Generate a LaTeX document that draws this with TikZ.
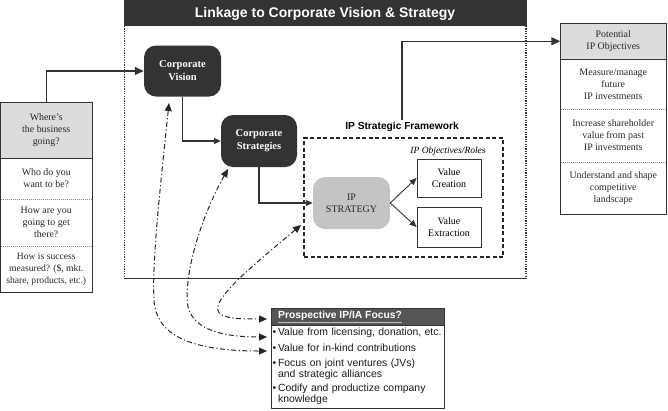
\documentclass[tikz,border=0pt]{standalone}
\usepackage{fontspec}
\setmainfont{Liberation Serif}
\setsansfont{Liberation Sans}
\usetikzlibrary{arrows.meta}
\definecolor{darkbox}{HTML}{333333}
\definecolor{hdrgray}{HTML}{DCDCDC}
\definecolor{ipgray}{HTML}{C4C4C4}
\definecolor{prosphdr}{HTML}{555555}
\definecolor{linec}{HTML}{333333}
\begin{document}
\begin{tikzpicture}[x=1pt,y=-1pt,
  darkround/.style={draw=none,fill=darkbox,rounded corners=12pt,text=white,font=\fontsize{10.5}{13}\selectfont\bfseries,align=center,inner sep=0pt},
  plainbox/.style={draw=linec,line width=0.8pt,fill=white,font=\fontsize{10}{12}\selectfont,align=center,inner sep=0pt},
  sectxt/.style={font=\fontsize{9.9}{12}\selectfont,align=center,inner sep=0pt,text=black!85},
  conn/.style={draw=linec,line width=1.1pt},
  bigtip/.style={-{Triangle[length=9pt,width=8pt]}},
  smalltip/.style={-{Triangle[length=7pt,width=6pt]}},
  dd/.style={draw=black!85,line width=1pt,dash pattern=on 5pt off 2.5pt on 1.2pt off 2.5pt,{Triangle[length=8pt,width=7pt]}-{Triangle[length=8pt,width=7pt]}},
  dotsep/.style={draw=black!45,line width=0.5pt,dash pattern=on 1pt off 1pt},
  bigdot/.style={draw=linec,line width=1.6pt,dash pattern=on 1.2pt off 1.2pt}
]
\useasboundingbox (0,0) rectangle (668,410);

% ---- title bar and big box
\fill[darkbox] (124,0) rectangle (527,26);
\node[text=white,font=\sffamily\bfseries\fontsize{14}{16}\selectfont] (title) at (325,14) {Linkage to Corporate Vision \& Strategy};
\draw[bigdot] (124.5,26) -- (124.5,278.5);
\draw[bigdot] (526,26) -- (526,278.5);
\draw[draw=linec,line width=1.2pt] (124,278.5) -- (527,278.5);

% ---- left box
\fill[hdrgray] (0.5,102.5) rectangle (92,158);
\draw[line width=0.8pt,draw=linec] (0.5,102.5) rectangle (92,292);
\draw[line width=0.8pt,draw=linec] (0.5,158) -- (92,158);
\draw[dotsep] (0.5,199) -- (92,199);
\draw[dotsep] (0.5,246) -- (92,246);
\node[sectxt,minimum width=91.5pt,minimum height=55.5pt] (where) at (46.25,130.25) {Where’s\\the business\\going?};
\node[sectxt] (who) at (46.25,178.5) {Who do you\\want to be?};
\node[sectxt] (how) at (46.25,222.5) {How are you\\going to get\\there?};
\node[sectxt,font=\fontsize{9.6}{12}\selectfont] (meas) at (46.25,269) {How is success\\measured? (\$, mkt.\\share, products, etc.)};

% ---- right box
\fill[hdrgray] (560.5,23.5) rectangle (666,59);
\draw[line width=0.8pt,draw=linec] (560.5,23.5) rectangle (666,214);
\draw[line width=0.8pt,draw=linec] (560.5,59) -- (666,59);
\draw[dotsep] (560.5,109) -- (666,109);
\draw[dotsep] (560.5,162) -- (666,162);
\node[sectxt,minimum width=105.5pt,minimum height=35.5pt] (pot) at (613.25,41.25) {Potential\\IP Objectives};
\node[sectxt] (mm) at (613.25,84) {Measure/manage\\future\\IP investments};
\node[sectxt] (inc) at (613.25,135.5) {Increase shareholder\\value from past\\IP investments};
\node[sectxt] (und) at (613.25,188) {Understand and shape\\competitive\\landscape};

% ---- corporate boxes
\node[darkround,minimum width=77pt,minimum height=51pt] (vision) at (182.5,71) {Corporate\\Vision};
\node[darkround,minimum width=76pt,minimum height=52pt] (strat) at (259,141) {Corporate\\Strategies};

% ---- IP strategic framework
\node[draw=black!85,line width=1.2pt,dash pattern=on 4pt off 2.5pt,minimum width=199pt,minimum height=119pt,inner sep=0pt] (frame) at (403.5,197.5) {};
\node[font=\sffamily\bfseries\fontsize{10.2}{12}\selectfont,inner sep=2pt] (fwlabel) at (402,127) {IP Strategic Framework};
\node[font=\itshape\fontsize{9.5}{11}\selectfont,inner sep=0pt] (roles) at (448,151) {IP Objectives/Roles};
\node[fill=ipgray,rounded corners=12pt,minimum width=77pt,minimum height=52pt,align=center,inner sep=0pt,font=\fontsize{10}{12}\selectfont,text=black!85] (ipstrat) at (351.5,203) {IP\\STRATEGY};
\node[plainbox,minimum width=64pt,minimum height=38pt] (vc) at (449,178) {Value\\Creation};
\node[plainbox,minimum width=64pt,minimum height=40pt] (ve) at (449,227) {Value\\Extraction};

% ---- prospective box
\node[fill=prosphdr,draw=linec,line width=0.8pt,minimum width=173pt,minimum height=17pt,inner sep=0pt] (prosph) at (357.5,316.5) {};
\node[anchor=west,text=white,font=\sffamily\bfseries\fontsize{10.3}{12}\selectfont,inner sep=0pt] (prospt) at (278,315.5) {Prospective IP/IA Focus?};
\draw[white!75!black,line width=0.6pt] ([yshift=-1.5pt]prospt.south west) -- ([yshift=-1.5pt]prospt.south east);
\draw[line width=0.8pt,draw=linec] (271,325) rectangle (444,408);
\node[anchor=north west,align=left,text width=172pt,inner sep=0pt,font=\sffamily\fontsize{10.4}{11}\selectfont,text=black!90] (prospb) at (272.5,327.5) {%
\textbullet\,Value from licensing, donation, etc.\\[5pt]
\textbullet\,Value for in-kind contributions\\[4pt]
\textbullet\,Focus on joint ventures (JVs)\\
\hphantom{\textbullet\,}and strategic alliances\\[3pt]
\textbullet\,Codify and productize company\\
\hphantom{\textbullet\,}knowledge};

% ---- solid connectors
\draw[conn,bigtip] (where.north) |- (vision.west);
\draw[conn,smalltip] (vision.south) |- (strat.west);
\draw[conn,smalltip] (strat.south) |- (ipstrat.west);
\draw[conn,bigtip] (fwlabel.north) |- (pot.west);
\draw[conn,line width=0.9pt,smalltip] (ipstrat.east) -- (vc.west);
\draw[conn,line width=0.9pt,smalltip] (ipstrat.east) -- (ve.west);

% ---- dash-dot connectors
\coordinate (s1) at (169,103);
\coordinate (s2) at (228,169);
\coordinate (s3) at (301,225);
\coordinate (e1) at (267,351);
\coordinate (e2) at (267,337);
\coordinate (e3) at (267,319);
\draw[dd] (s1) .. controls (160,190) and (152,260) .. (154,300) .. controls (156,335) and (190,351) .. (e1);
\draw[dd] (s2) .. controls (205,210) and (187,260) .. (187,298) .. controls (187,325) and (212,337) .. (e2);
\draw[dd] (s3) .. controls (262,258) and (222,290) .. (218,306) .. controls (215,318) and (232,319) .. (e3);
\end{tikzpicture}
\end{document}
